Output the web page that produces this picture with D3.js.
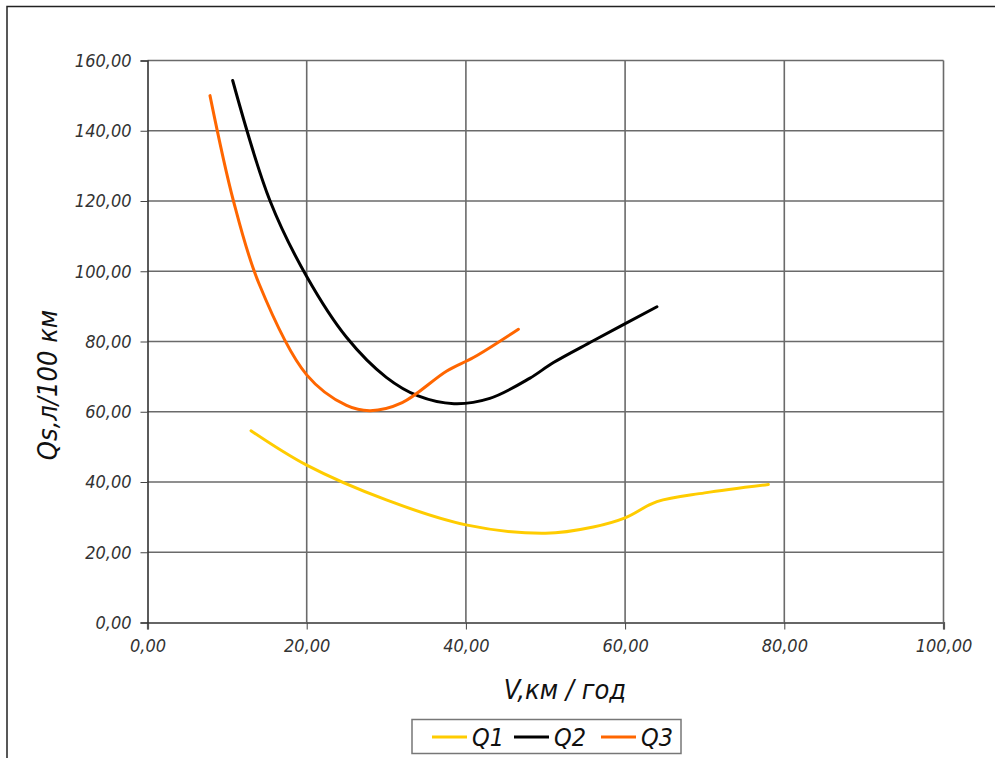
<!DOCTYPE html>
<html><head><meta charset="utf-8">
<script src="https://cdn.jsdelivr.net/npm/d3@7"></script>
<style>
body{margin:0;background:#fff;}
text{font-family:"DejaVu Sans Condensed","DejaVu Sans",sans-serif;font-stretch:condensed;font-style:italic;}
</style></head><body>
<svg id="c" width="995" height="758"></svg>
<script>
const xTicks=[0,20,40,60,80,100];
const yTicks=[0,20,40,60,80,100,120,140,160];
const seriesNames=["Q1","Q2","Q3"];
const seriesColors=["#FFCC00","#000000","#FF6600"];
const q1=[[13,54.6],[20,44.8],[30,34.9],[40,27.8],[50,25.4],[56,27.2],[60,29.8],[64,34.4],[70,36.9],[78,39.3]];
const q2=[[10.7,154.3],[15.4,120],[20,98.5],[25,81.2],[30,69.8],[34,64.5],[38.5,62.3],[43,63.8],[48,69.5],[51,74],[56,80.2],[64,89.9]];
const q3=[[7.85,150],[10.8,120],[14,96.5],[20,70.5],[25,61.8],[28,60.3],[32,62.6],[37.6,71.6],[41,75.5],[46.6,83.5]];
const series=[q1,q2,q3];

const svg=d3.select("#c");
const x=d3.scaleLinear().domain([0,100]).range([147.5,943.5]);
const y=d3.scaleLinear().domain([0,160]).range([622.5,60.5]);
const fmt=d=>d3.format(".2f")(d).replace(".",",");

svg.append("path").attr("d","M7,758 L7,6.5 L995,6.5").attr("fill","none").attr("stroke","#222").attr("stroke-width",1.5);

svg.append("g").selectAll("line").data(yTicks.slice(1)).join("line")
 .attr("x1",x(0)).attr("x2",x(100)).attr("y1",d=>y(d)).attr("y2",d=>y(d))
 .attr("stroke","#6a6a6a").attr("stroke-width",1.6);
svg.append("g").selectAll("line").data(xTicks.slice(1)).join("line")
 .attr("x1",d=>x(d)).attr("x2",d=>x(d)).attr("y1",y(0)).attr("y2",y(160))
 .attr("stroke","#6a6a6a").attr("stroke-width",1.6);

const xa=svg.append("g").attr("transform",`translate(0,${y(0)})`)
 .call(d3.axisBottom(x).tickValues(xTicks).tickSize(7).tickPadding(10).tickFormat(fmt));
const ya=svg.append("g").attr("transform",`translate(${x(0)},0)`)
 .call(d3.axisLeft(y).tickValues(yTicks).tickSize(7).tickPadding(9).tickFormat(fmt));
[xa,ya].forEach(a=>{a.selectAll("text").attr("font-size",18).attr("fill","#333")
  .style("font-family","'DejaVu Sans Condensed','DejaVu Sans',sans-serif").style("font-stretch","condensed").style("font-style","italic");
 a.selectAll(".tick line").attr("stroke","#444");});
xa.select(".domain").attr("stroke","#666").attr("stroke-width",2.2);
ya.select(".domain").attr("stroke","#333").attr("stroke-width",1.6);

const line=d3.line().x(d=>x(d[0])).y(d=>y(d[1])).curve(d3.curveCatmullRom.alpha(0.5));
svg.append("g").selectAll("path").data(series).join("path")
 .attr("d",line).attr("fill","none").attr("stroke",(d,i)=>seriesColors[i]).attr("stroke-width",3).attr("stroke-linecap","round");

svg.append("text").attr("x",565).attr("y",699).attr("text-anchor","middle").attr("font-size",27).attr("fill","#111").text("V,км / год");
svg.append("text").attr("transform","translate(57,385) rotate(-90)").attr("text-anchor","middle").attr("font-size",27).attr("fill","#111").text("Qs,л/100 км");

const lg=svg.append("g");
lg.append("rect").attr("x",412).attr("y",719.5).attr("width",269).attr("height",34).attr("fill","#fff").attr("stroke","#777").attr("stroke-width",1.5);
const lx=[432,514,601];
seriesNames.forEach((n,i)=>{
 lg.append("line").attr("x1",lx[i]).attr("x2",lx[i]+35).attr("y1",737).attr("y2",737).attr("stroke",seriesColors[i]).attr("stroke-width",3);
 lg.append("text").attr("x",lx[i]+40).attr("y",746).attr("font-size",25).attr("fill","#111").text(n);
});
</script></body></html>
